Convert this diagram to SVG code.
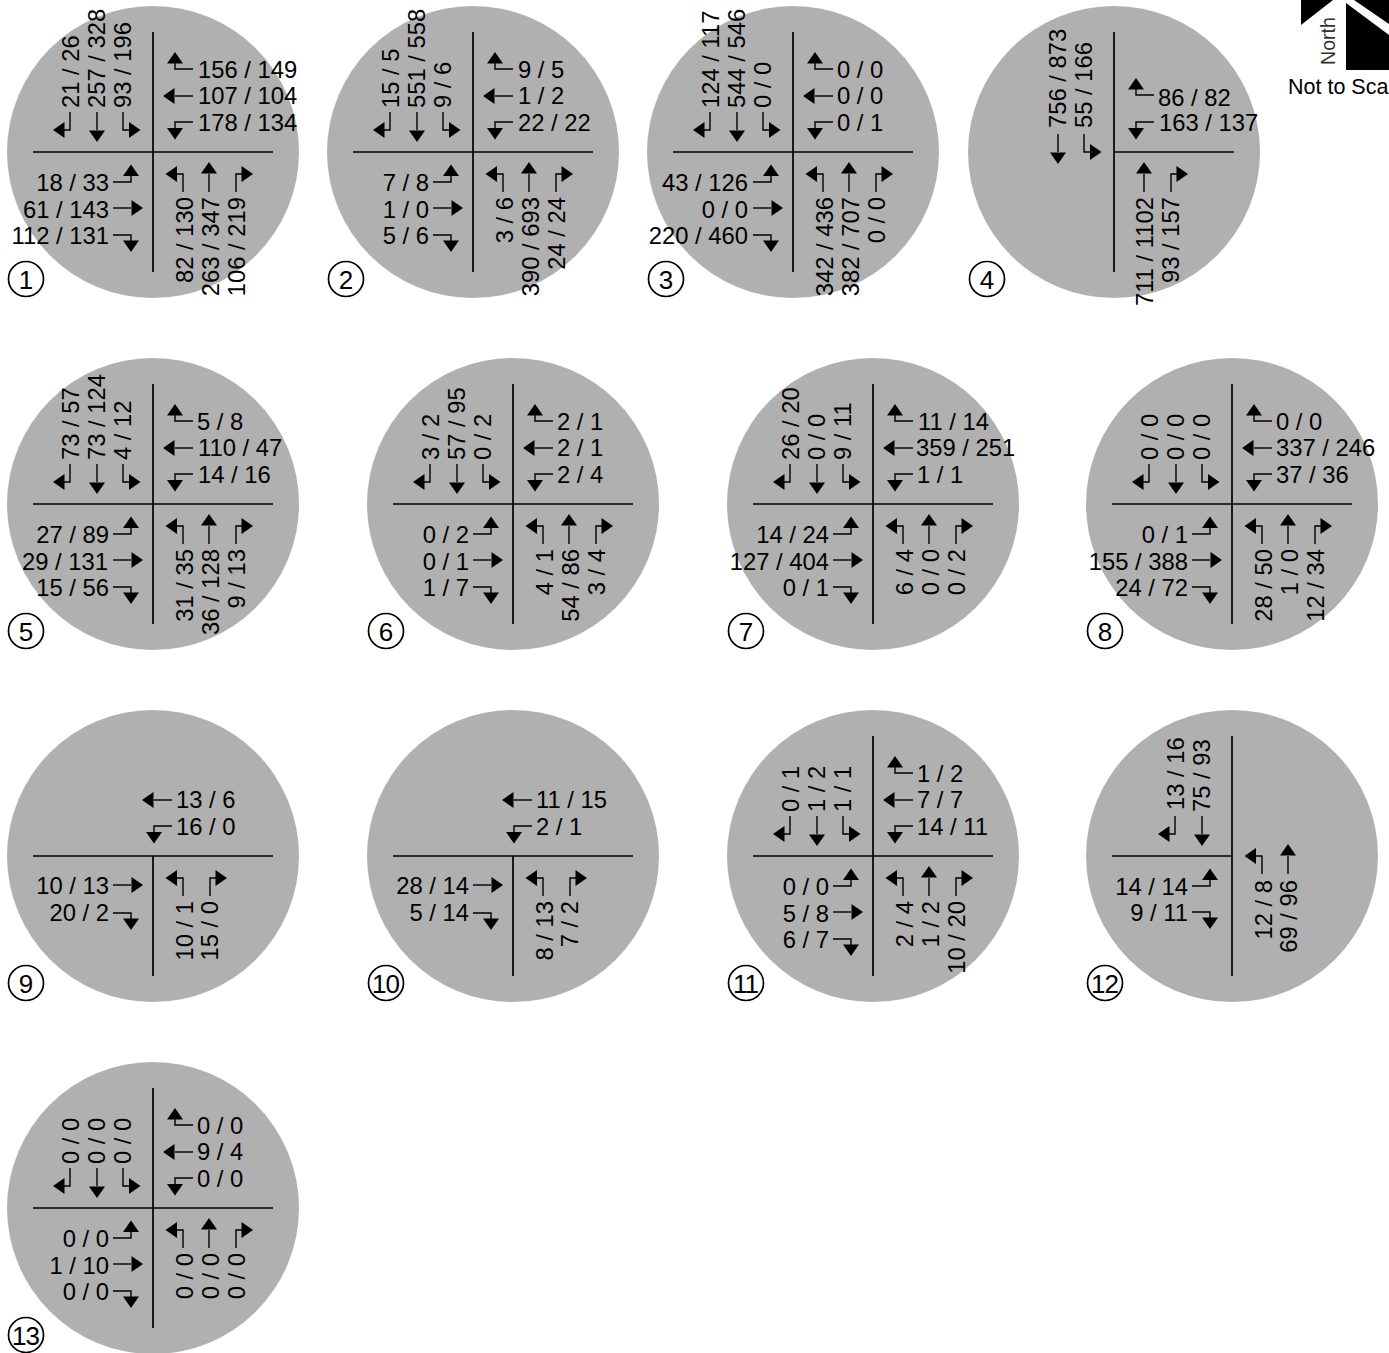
<svg xmlns="http://www.w3.org/2000/svg" width="1389" height="1353" viewBox="0 0 1389 1353">
<style>
text{font-family:"Liberation Sans",Arial,sans-serif;font-size:23.8px;fill:#000}
.e{text-anchor:end}
.c{text-anchor:middle;font-size:26px}
.cc{text-anchor:middle;font-size:26px;letter-spacing:-1px}
.bg{fill:#b0b0b0}
.ax{stroke:#000;stroke-width:1.7;fill:none}
.st{stroke:#000;stroke-width:1.4;fill:none}
.hd{fill:#000}
.id{fill:#fff;stroke:#000;stroke-width:1.7}
.nt{font-size:19.600px;fill:#333}
.ns{font-size:21.500px}
</style>
<defs>
<g id="t"><path class="st" d="M22-89V-83H40"/><path class="hd" d="M22-100 14-88.500H30Z"/></g>
<g id="m"><path class="st" d="M22-56H40"/><path class="hd" d="M10-56 21.500-64V-48Z"/></g>
<g id="b"><path class="st" d="M22-24V-30H40"/><path class="hd" d="M22-12.500 14-24H30Z"/></g>
<g id="q"><use href="#t"/><use href="#m"/><use href="#b"/></g>
<g id="all"><use href="#q"/><use href="#q" transform="rotate(90)"/><use href="#q" transform="rotate(180)"/><use href="#q" transform="rotate(-90)"/></g>
<g id="cross"><path class="ax" d="M0-120V120M-120 0H120"/></g>
<circle id="disc" class="bg" r="146"/>
</defs>

<g id="panel-1" transform="translate(153,152)"><use href="#disc"/><use href="#cross"/><g class="connectors"><use href="#all"/></g>
<text x="45" y="-74">156 / 149</text><text x="45" y="-48">107 / 104</text><text x="45" y="-21">178 / 134</text>
<text class="e" x="-44" y="39">18 / 33</text><text class="e" x="-44" y="66">61 / 143</text><text class="e" x="-44" y="92">112 / 131</text>
<text transform="translate(-74,-44) rotate(-90)">21 / 26</text><text transform="translate(-48,-44) rotate(-90)">257 / 328</text><text transform="translate(-22,-44) rotate(-90)">93 / 196</text>
<text class="e" transform="translate(39.500,45) rotate(-90)">82 / 130</text><text class="e" transform="translate(66,45) rotate(-90)">263 / 347</text><text class="e" transform="translate(92,45) rotate(-90)">106 / 219</text>
<circle class="id" cx="-127" cy="127" r="17.500"/><text class="c" x="-127" y="136.500">1</text></g>

<g id="panel-2" transform="translate(473,152)"><use href="#disc"/><use href="#cross"/><g class="connectors"><use href="#all"/></g>
<text x="45" y="-74">9 / 5</text><text x="45" y="-48">1 / 2</text><text x="45" y="-21">22 / 22</text>
<text class="e" x="-44" y="39">7 / 8</text><text class="e" x="-44" y="66">1 / 0</text><text class="e" x="-44" y="92">5 / 6</text>
<text transform="translate(-74,-44) rotate(-90)">15 / 5</text><text transform="translate(-48,-44) rotate(-90)">551 / 558</text><text transform="translate(-22,-44) rotate(-90)">9 / 6</text>
<text class="e" transform="translate(39.500,45) rotate(-90)">3 / 6</text><text class="e" transform="translate(66,45) rotate(-90)">390 / 693</text><text class="e" transform="translate(92,45) rotate(-90)">24 / 24</text>
<circle class="id" cx="-127" cy="127" r="17.500"/><text class="c" x="-127" y="136.500">2</text></g>

<g id="panel-3" transform="translate(793,152)"><use href="#disc"/><use href="#cross"/><g class="connectors"><use href="#all"/></g>
<text x="44" y="-74">0 / 0</text><text x="44" y="-48">0 / 0</text><text x="44" y="-21">0 / 1</text>
<text class="e" x="-45" y="39">43 / 126</text><text class="e" x="-45" y="66">0 / 0</text><text class="e" x="-45" y="92">220 / 460</text>
<text transform="translate(-74,-44) rotate(-90)">124 / 117</text><text transform="translate(-48,-44) rotate(-90)">544 / 546</text><text transform="translate(-22,-44) rotate(-90)">0 / 0</text>
<text class="e" transform="translate(39.500,45) rotate(-90)">342 / 436</text><text class="e" transform="translate(66,45) rotate(-90)">382 / 707</text><text class="e" transform="translate(92,45) rotate(-90)">0 / 0</text>
<circle class="id" cx="-127" cy="127" r="17.500"/><text class="c" x="-127" y="136.500">3</text></g>

<g id="panel-4" transform="translate(1114,152)"><use href="#disc"/><path class="ax" d="M0-120V120M0 0H120"/>
<g class="connectors"><use href="#m" transform="translate(0,22) rotate(-90)"/><use href="#b" transform="translate(0,22) rotate(-90)"/><use href="#t" transform="translate(0,26)"/><use href="#b"/><use href="#m" transform="translate(-26,0) rotate(90)"/><use href="#t" transform="translate(-26,0) rotate(90)"/></g>
<text x="44" y="-46">86 / 82</text><text x="45" y="-21">163 / 137</text>
<text transform="translate(-48,-24) rotate(-90)">756 / 873</text><text transform="translate(-22,-24) rotate(-90)">55 / 166</text>
<text class="e" transform="translate(39,45) rotate(-90)">711 / 1102</text><text class="e" transform="translate(65,45) rotate(-90)">93 / 157</text>
<circle class="id" cx="-127" cy="127" r="17.500"/><text class="c" x="-127" y="136.500">4</text></g>

<g id="panel-5" transform="translate(153,504)"><use href="#disc"/><use href="#cross"/><g class="connectors"><use href="#all"/></g>
<text x="44" y="-74">5 / 8</text><text x="45" y="-48">110 / 47</text><text x="45" y="-21">14 / 16</text>
<text class="e" x="-44" y="39">27 / 89</text><text class="e" x="-45" y="66">29 / 131</text><text class="e" x="-44" y="92">15 / 56</text>
<text transform="translate(-74,-44) rotate(-90)">73 / 57</text><text transform="translate(-48,-44) rotate(-90)">73 / 124</text><text transform="translate(-22,-44) rotate(-90)">4 / 12</text>
<text class="e" transform="translate(39.500,45) rotate(-90)">31 / 35</text><text class="e" transform="translate(66,45) rotate(-90)">36 / 128</text><text class="e" transform="translate(92,45) rotate(-90)">9 / 13</text>
<circle class="id" cx="-127" cy="127" r="17.500"/><text class="c" x="-127" y="136.500">5</text></g>

<g id="panel-6" transform="translate(513,504)"><use href="#disc"/><use href="#cross"/><g class="connectors"><use href="#all"/></g>
<text x="44" y="-74">2 / 1</text><text x="44" y="-48">2 / 1</text><text x="44" y="-21">2 / 4</text>
<text class="e" x="-44" y="39">0 / 2</text><text class="e" x="-44" y="66">0 / 1</text><text class="e" x="-44" y="92">1 / 7</text>
<text transform="translate(-74,-44) rotate(-90)">3 / 2</text><text transform="translate(-48,-44) rotate(-90)">57 / 95</text><text transform="translate(-22,-44) rotate(-90)">0 / 2</text>
<text class="e" transform="translate(39.500,45) rotate(-90)">4 / 1</text><text class="e" transform="translate(66,45) rotate(-90)">54 / 86</text><text class="e" transform="translate(92,45) rotate(-90)">3 / 4</text>
<circle class="id" cx="-127" cy="127" r="17.500"/><text class="c" x="-127" y="136.500">6</text></g>

<g id="panel-7" transform="translate(873,504)"><use href="#disc"/><use href="#cross"/><g class="connectors"><use href="#all"/></g>
<text x="45" y="-74">11 / 14</text><text x="43" y="-48">359 / 251</text><text x="44" y="-21">1 / 1</text>
<text class="e" x="-44" y="39">14 / 24</text><text class="e" x="-44" y="66">127 / 404</text><text class="e" x="-44" y="92">0 / 1</text>
<text transform="translate(-74,-44) rotate(-90)">26 / 20</text><text transform="translate(-48,-44) rotate(-90)">0 / 0</text><text transform="translate(-22,-44) rotate(-90)">9 / 11</text>
<text class="e" transform="translate(39.500,45) rotate(-90)">6 / 4</text><text class="e" transform="translate(66,45) rotate(-90)">0 / 0</text><text class="e" transform="translate(92,45) rotate(-90)">0 / 2</text>
<circle class="id" cx="-127" cy="127" r="17.500"/><text class="c" x="-127" y="136.500">7</text></g>

<g id="panel-8" transform="translate(1232,504)"><use href="#disc"/><use href="#cross"/><g class="connectors"><use href="#all"/></g>
<text x="44" y="-74">0 / 0</text><text x="44" y="-48">337 / 246</text><text x="44" y="-21">37 / 36</text>
<text class="e" x="-44" y="39">0 / 1</text><text class="e" x="-44" y="66">155 / 388</text><text class="e" x="-44" y="92">24 / 72</text>
<text transform="translate(-74,-44) rotate(-90)">0 / 0</text><text transform="translate(-48,-44) rotate(-90)">0 / 0</text><text transform="translate(-22,-44) rotate(-90)">0 / 0</text>
<text class="e" transform="translate(39.500,45) rotate(-90)">28 / 50</text><text class="e" transform="translate(66,45) rotate(-90)">1 / 0</text><text class="e" transform="translate(92,45) rotate(-90)">12 / 34</text>
<circle class="id" cx="-127" cy="127" r="17.500"/><text class="c" x="-127" y="136.500">8</text></g>

<g id="panel-9" transform="translate(153,856)"><use href="#disc"/><path class="ax" d="M-120 0H120M0 0V120"/>
<g class="connectors"><use href="#m" transform="translate(-21,0)"/><use href="#b" transform="translate(-21,0)"/><use href="#m" transform="translate(0,-27) rotate(180)"/><use href="#t" transform="translate(0,-26) rotate(180)"/><use href="#b" transform="rotate(90)"/><use href="#t" transform="translate(-26,0) rotate(90)"/></g>
<text x="23" y="-48">13 / 6</text><text x="23" y="-21">16 / 0</text>
<text class="e" x="-44" y="38">10 / 13</text><text class="e" x="-44" y="65">20 / 2</text>
<text class="e" transform="translate(39.500,45) rotate(-90)">10 / 1</text><text class="e" transform="translate(64.500,45) rotate(-90)">15 / 0</text>
<circle class="id" cx="-127" cy="127" r="17.500"/><text class="c" x="-127" y="136.500">9</text></g>

<g id="panel-10" transform="translate(513,856)"><use href="#disc"/><path class="ax" d="M-120 0H120M0 0V120"/>
<g class="connectors"><use href="#m" transform="translate(-21,0)"/><use href="#b" transform="translate(-21,0)"/><use href="#m" transform="translate(0,-27) rotate(180)"/><use href="#t" transform="translate(0,-26) rotate(180)"/><use href="#b" transform="rotate(90)"/><use href="#t" transform="translate(-26,0) rotate(90)"/></g>
<text x="23" y="-48">11 / 15</text><text x="23" y="-21">2 / 1</text>
<text class="e" x="-44" y="38">28 / 14</text><text class="e" x="-44" y="65">5 / 14</text>
<text class="e" transform="translate(39.500,45) rotate(-90)">8 / 13</text><text class="e" transform="translate(64.500,45) rotate(-90)">7 / 2</text>
<circle class="id" cx="-127" cy="127" r="17.500"/><text class="cc" x="-127.500" y="136.500">10</text></g>

<g id="panel-11" transform="translate(873,856)"><use href="#disc"/><use href="#cross"/><g class="connectors"><use href="#all"/></g>
<text x="44" y="-74">1 / 2</text><text x="44" y="-48">7 / 7</text><text x="44" y="-21">14 / 11</text>
<text class="e" x="-44" y="39">0 / 0</text><text class="e" x="-44" y="66">5 / 8</text><text class="e" x="-44" y="92">6 / 7</text>
<text transform="translate(-74,-44) rotate(-90)">0 / 1</text><text transform="translate(-48,-44) rotate(-90)">1 / 2</text><text transform="translate(-22,-44) rotate(-90)">1 / 1</text>
<text class="e" transform="translate(39.500,45) rotate(-90)">2 / 4</text><text class="e" transform="translate(66,45) rotate(-90)">1 / 2</text><text class="e" transform="translate(92,45) rotate(-90)">10 / 20</text>
<circle class="id" cx="-127" cy="127" r="17.500"/><text class="cc" x="-127.500" y="136.500">11</text></g>

<g id="panel-12" transform="translate(1232,856)"><use href="#disc"/><path class="ax" d="M0-120V120M-120 0H0"/>
<g class="connectors"><use href="#t" transform="translate(26,0) rotate(-90)"/><use href="#m" transform="translate(26,0) rotate(-90)"/><use href="#b" transform="rotate(180)"/><use href="#t" transform="translate(0,-27) rotate(180)"/><use href="#b" transform="translate(0,-22) rotate(90)"/><use href="#m" transform="translate(0,-22) rotate(90)"/></g>
<text transform="translate(-48,-46) rotate(-90)">13 / 16</text><text transform="translate(-22,-44) rotate(-90)">75 / 93</text>
<text class="e" x="-44" y="39">14 / 14</text><text class="e" x="-44" y="65">9 / 11</text>
<text class="e" transform="translate(39.500,24) rotate(-90)">12 / 8</text><text class="e" transform="translate(65,24) rotate(-90)">69 / 96</text>
<circle class="id" cx="-127" cy="127" r="17.500"/><text class="cc" x="-127.500" y="136.500">12</text></g>

<g id="panel-13" transform="translate(153,1208)"><use href="#disc"/><use href="#cross"/><g class="connectors"><use href="#all"/></g>
<text x="44" y="-74">0 / 0</text><text x="44" y="-48">9 / 4</text><text x="44" y="-21">0 / 0</text>
<text class="e" x="-44" y="39">0 / 0</text><text class="e" x="-44" y="66">1 / 10</text><text class="e" x="-44" y="92">0 / 0</text>
<text transform="translate(-74,-44) rotate(-90)">0 / 0</text><text transform="translate(-48,-44) rotate(-90)">0 / 0</text><text transform="translate(-22,-44) rotate(-90)">0 / 0</text>
<text class="e" transform="translate(39.500,45) rotate(-90)">0 / 0</text><text class="e" transform="translate(66,45) rotate(-90)">0 / 0</text><text class="e" transform="translate(92,45) rotate(-90)">0 / 0</text>
<circle class="id" cx="-127" cy="127" r="17.500"/><text class="cc" x="-127.500" y="136.500">13</text></g>

<g id="north-arrow"><path d="M1301 0V25L1333 0Z"/><path d="M1346 3L1389 35V70H1346Z"/><path d="M1354 0H1389V24Z"/>
<text class="nt" transform="translate(1335,65) rotate(-90)">North</text><text class="ns" x="1288" y="94">Not to Sca</text></g>
</svg>
